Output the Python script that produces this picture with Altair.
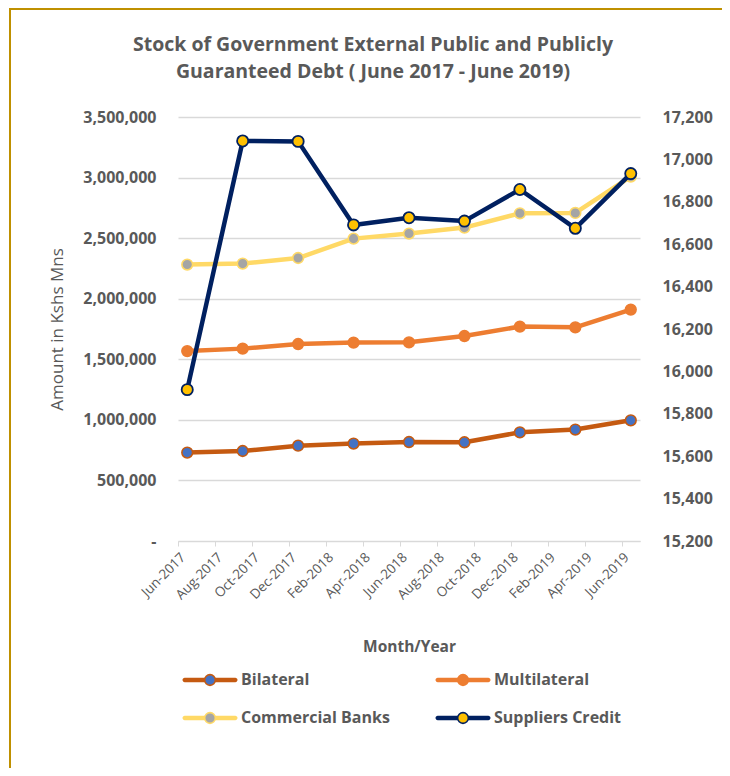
import altair as alt
import pandas as pd

# ---------------- data ----------------
months = ["Jun-2017", "Sep-2017", "Dec-2017", "Mar-2018", "Jun-2018",
          "Sep-2018", "Dec-2018", "Mar-2019", "Jun-2019"]
bilateral = [730000, 743000, 787000, 804000, 817000, 815000, 897000, 920000, 996000]
multilateral = [1568000, 1588000, 1626000, 1638000, 1640000, 1692000, 1770000, 1764000, 1910000]
commercial = [2282000, 2290000, 2336000, 2496000, 2538000, 2587000, 2705000, 2708000, 3008000]
suppliers = [15914, 17087, 17085, 16691, 16725, 16709, 16858, 16675, 16933]

tick_labels = ["Jun-2017", "Aug-2017", "Oct-2017", "Dec-2017", "Feb-2018", "Apr-2018",
               "Jun-2018", "Aug-2018", "Oct-2018", "Dec-2018", "Feb-2019", "Apr-2019", "Jun-2019"]
left_ticks = [0, 500000, 1000000, 1500000, 2000000, 2500000, 3000000, 3500000]
right_ticks = [15200, 15400, 15600, 15800, 16000, 16200, 16400, 16600, 16800, 17000, 17200]

series_names = ["Bilateral", "Multilateral", "Commercial Banks", "Suppliers Credit"]
line_colors = ["#C55A11", "#ED7D31", "#FFD966", "#002060"]
marker_fills = ["#4472C4", "#ED7D31", "#A5A5A5", "#FFC000"]
legend_col = [0, 1, 0, 1]
legend_row = [0, 0, 1, 1]

title_lines = ["Stock of Government External Public and Publicly",
               "Guaranteed Debt ( June 2017 - June 2019)"]

FONT = "Open Sans"
GREY = "#595959"
GRID = "#D9D9D9"
GOLD = "#BF9000"

# ---------------- tables ----------------
def month_index(label):
    d = pd.to_datetime(label, format="%b-%Y")
    return (d.year - 2017) * 12 + (d.month - 6) + 0.5

idx = [month_index(m) for m in months]
rows = []
for name, vals, lc, fc in zip(series_names[:3], [bilateral, multilateral, commercial],
                              line_colors[:3], marker_fills[:3]):
    for m, i, v in zip(months, idx, vals):
        rows.append({"series": name, "month": m, "idx": i, "value": v, "lc": lc, "fc": fc})
left_df = pd.DataFrame(rows)
right_df = pd.DataFrame({"series": series_names[3], "month": months, "idx": idx,
                         "value": suppliers, "lc": line_colors[3], "fc": marker_fills[3]})
legend_df = pd.DataFrame({"series": series_names, "lx": legend_col, "ly": legend_row,
                          "lc": line_colors, "fc": marker_fills})

label_array = "[" + ",".join("'" + t + "'" for t in tick_labels) + "]"

x_scale = alt.Scale(domain=[0, 25], nice=False, zero=False)
x_main = alt.X("idx:Q", scale=x_scale, axis=alt.Axis(
    values=list(range(0, 25, 2)),
    labelExpr=label_array + "[round(datum.value/2)]",
    labelAngle=-45, labelFont=FONT, labelFontSize=13.5, labelColor=GREY, labelPadding=4,
    labelOverlap=False, labelBound=False,
    tickColor=GRID, tickSize=5, domainColor=GRID, grid=False,
    title="Month/Year", titleFont=FONT, titleFontSize=15.5, titleFontWeight="bold",
    titleColor=GREY, titleY=105, titleBaseline="middle"))
x_plain = alt.X("idx:Q", scale=x_scale, axis=None)

left_scale = alt.Scale(domain=[0, 3500000], nice=False, zero=True)
y_left_axis = alt.Y("value:Q", scale=left_scale, axis=alt.Axis(
    values=left_ticks,
    labelExpr="datum.value == 0 ? '-' : format(datum.value, ',')",
    labelFont=FONT, labelFontSize=16, labelFontWeight="bold", labelColor=GREY,
    labelPadding=22, ticks=False, tickSize=0, domain=False,
    grid=True, gridColor=GRID, gridWidth=1.3,
    title="Amount in Kshs Mns", titleFont=FONT, titleFontSize=17, titleFontWeight="normal",
    titleColor=GREY, titleAngle=-90, titleX=-121, titleY=212,
    titleAlign="center", titleBaseline="middle"))
y_left = alt.Y("value:Q", scale=left_scale, axis=None)

right_scale = alt.Scale(domain=[15200, 17200], nice=False, zero=False)
y_right_axis = alt.Y("value:Q", scale=right_scale, axis=alt.Axis(
    orient="right", values=right_ticks, labelExpr="format(datum.value, ',')",
    labelFont=FONT, labelFontSize=16, labelFontWeight="bold", labelColor=GREY,
    labelPadding=22, ticks=False, tickSize=0, domain=False, grid=False, title=None))
y_right = alt.Y("value:Q", scale=right_scale, axis=None)

color_left = alt.Color("series:N", scale=alt.Scale(domain=series_names[:3], range=line_colors[:3]),
                       legend=None)

left_lines = alt.Chart(left_df).mark_line(strokeWidth=4.5, strokeJoin="round", strokeCap="round").encode(
    x=x_main, y=y_left_axis, color=color_left, order="idx:Q")
left_points = alt.Chart(left_df).mark_point(shape="circle", filled=True, size=115, opacity=1,
                                            strokeWidth=1.6).encode(
    x=x_plain, y=y_left, fill=alt.Fill("fc:N", scale=None), stroke=alt.Stroke("lc:N", scale=None))
right_lines = alt.Chart(right_df).mark_line(strokeWidth=4.5, strokeJoin="round", strokeCap="round",
                                            color=line_colors[3]).encode(
    x=x_plain, y=y_right_axis, order="idx:Q")
right_points = alt.Chart(right_df).mark_point(shape="circle", filled=True, size=125, opacity=1,
                                              strokeWidth=1.8).encode(
    x=x_plain, y=y_right, fill=alt.Fill("fc:N", scale=None), stroke=alt.Stroke("lc:N", scale=None))

# ---------------- legend ----------------
lx = alt.X("lx:Q", scale=alt.Scale(domain=[0, 1], range=[32, 285]), axis=None)
ly = alt.Y("ly:Q", scale=alt.Scale(domain=[0, 1], range=[563, 601]), axis=None)
leg_lines = alt.Chart(legend_df).mark_tick(orient="horizontal", size=55, thickness=4.5,
                                           cornerRadius=2.2, opacity=1).encode(
    x=lx, y=ly, color=alt.Color("lc:N", scale=None))
leg_points = alt.Chart(legend_df).mark_point(shape="circle", filled=True, size=115, opacity=1,
                                             strokeWidth=1.6).encode(
    x=lx, y=ly, fill=alt.Fill("fc:N", scale=None), stroke=alt.Stroke("lc:N", scale=None))
leg_text = alt.Chart(legend_df).mark_text(align="left", baseline="middle", dx=31, font=FONT,
                                          fontSize=16, fontWeight="bold", color=GREY).encode(
    x=lx, y=ly, text="series:N")

# ---------------- frame ----------------
frame_data = alt.Data(values=[{"k": 1}])
border_top = alt.Chart(frame_data).mark_rule(color=GOLD, strokeWidth=2).encode(
    x=alt.value(-169), x2=alt.value(544), y=alt.value(-108))
border_left = alt.Chart(frame_data).mark_rule(color=GOLD, strokeWidth=2).encode(
    x=alt.value(-168), y=alt.value(-109), y2=alt.value(651))

chart = alt.layer(
    left_lines, left_points, right_lines, right_points,
    leg_lines, leg_points, leg_text, border_top, border_left
).resolve_scale(
    x="independent", y="independent", color="independent", fill="independent", stroke="independent"
).properties(
    width=462, height=424,
    autosize=alt.AutoSizeParams(type="none"),
    padding={"left": 170, "top": 109, "right": 82, "bottom": 227},
    title=alt.Title(title_lines, font=FONT, fontSize=19.5, fontWeight="bold", color=GREY,
                    anchor="middle", dx=-36, offset=-75, lineHeight=27),
    background="white",
).configure_view(stroke=None)

chart.save("out.html", embed_options={"renderer": "svg", "actions": False})
